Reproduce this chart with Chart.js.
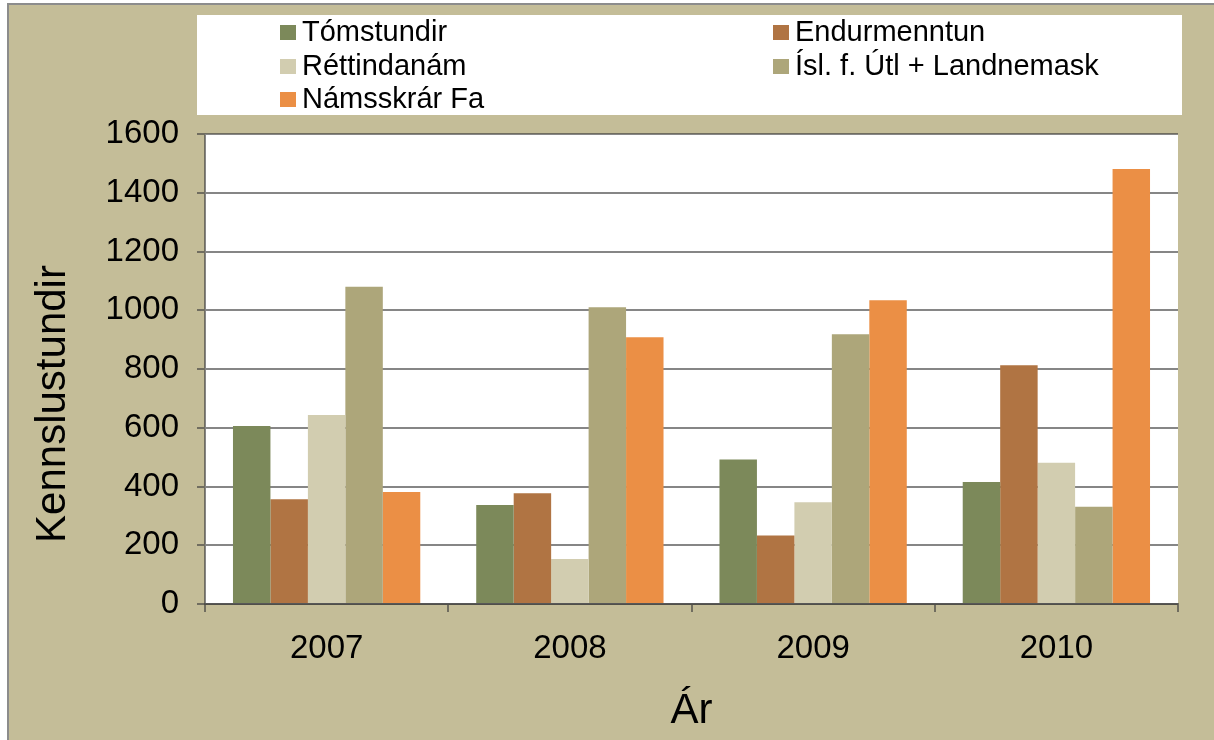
<!DOCTYPE html>
<html>
<head>
<meta charset="utf-8">
<script src="https://cdn.jsdelivr.net/npm/chart.js@4/dist/chart.umd.min.js"></script>
<style>
  html, body { margin: 0; padding: 0; background: #fff; }
  #frame {
    position: absolute; left: 7px; top: 3px; right: 0; bottom: 0;
    background: #C4BD98;
    border-left: 2px solid #8c8c8c;
    border-top: 2px solid #8c8c8c;
  }
  #chart { position: absolute; left: 0; top: 0; }
</style>
</head>
<body>
<div id="frame"></div>
<canvas id="chart" width="1214" height="740"></canvas>
<script>
// --- gögn lesin af myndinni ---
const years = ['2007', '2008', '2009', '2010'];
const tomstundir = [606, 337, 492, 415];
const endurmenntun = [357, 377, 233, 813];
const rettindanam = [643, 153, 346, 481];
const islUtl = [1080, 1010, 918, 331];
const namsskrar = [381, 908, 1034, 1481];
const yTicks = [0, 200, 400, 600, 800, 1000, 1200, 1400, 1600];

const FONT = '"Liberation Sans", Arial, sans-serif';
const gridColor = 'rgba(60,60,60,0.62)';

// hvítur bakgrunnur á teiknisvæði
const plotBg = {
    id: 'plotBg',
    beforeDraw(chart) {
        const {ctx, chartArea: a} = chart;
        ctx.save();
        ctx.fillStyle = '#fff';
        ctx.fillRect(a.left, a.top, a.right - a.left, a.bottom - a.top);
        ctx.restore();
    }
};

// skýringar í tveimur dálkum + titill y-áss
const boxLegend = {
    id: 'boxLegend',
    afterDraw(chart) {
        const ctx = chart.ctx;
        ctx.save();
        ctx.fillStyle = '#fff';
        ctx.fillRect(197, 15, 985, 100);
        ctx.font = '29px ' + FONT;
        ctx.textBaseline = 'middle';
        ctx.textAlign = 'left';
        const colX = [280, 773];
        const rowY = [32, 66, 99];
        chart.data.datasets.forEach((ds, i) => {
            const x = colX[i % 2], y = rowY[Math.floor(i / 2)];
            ctx.fillStyle = ds.backgroundColor;
            ctx.fillRect(x, y - 7, 16, 15);
            ctx.fillStyle = '#000';
            ctx.fillText(ds.label, x + 22, y + 1);
        });

        ctx.translate(65, 404);
        ctx.rotate(-Math.PI / 2);
        ctx.textAlign = 'center';
        ctx.textBaseline = 'alphabetic';
        ctx.font = '42px ' + FONT;
        ctx.fillText('Kennslustundir', 0, 0);
        ctx.restore();
    }
};

const ctx = document.getElementById('chart').getContext('2d');
new Chart(ctx, {
    type: 'bar',
    data: {
        labels: years,
        datasets: [
            { label: 'Tómstundir', data: tomstundir, backgroundColor: '#7C895A' },
            { label: 'Endurmenntun', data: endurmenntun, backgroundColor: '#B07443' },
            { label: 'Réttindanám', data: rettindanam, backgroundColor: '#D2CDB0' },
            { label: 'Ísl. f. Útl + Landnemask', data: islUtl, backgroundColor: '#ADA67A' },
            { label: 'Námsskrár Fa', data: namsskrar, backgroundColor: '#EB8F45' }
        ]
    },
    options: {
        responsive: false,
        animation: false,
        devicePixelRatio: 1,
        layout: { padding: { top: 134, right: 36, left: 0, bottom: 0 } },
        datasets: { bar: { categoryPercentage: 0.77, barPercentage: 1.0, borderWidth: 0 } },
        plugins: { legend: { display: false }, tooltip: { enabled: false } },
        scales: {
            x: {
                z: 1,
                grid: { offset: true, drawOnChartArea: false, color: gridColor, lineWidth: 2, tickLength: 8 },
                border: { color: gridColor, width: 2 },
                ticks: { color: '#000', font: { family: FONT, size: 33 }, padding: 17 },
                title: { display: true, text: 'Ár', color: '#000', font: { family: FONT, size: 42 }, padding: { top: 0, bottom: 3 } },
                afterFit(scale) { scale.height = 136; }
            },
            y: {
                z: 1,
                min: 0, max: 1600,
                afterBuildTicks(scale) { scale.ticks = yTicks.map(v => ({ value: v })); },
                grid: { color: gridColor, lineWidth: 2, tickLength: 8 },
                border: { color: gridColor, width: 2 },
                ticks: { color: '#000', font: { family: FONT, size: 33 }, padding: 18, callback: v => String(v) },
                afterFit(scale) { scale.width = 205; }
            }
        }
    },
    plugins: [plotBg, boxLegend]
});
</script>
</body>
</html>
